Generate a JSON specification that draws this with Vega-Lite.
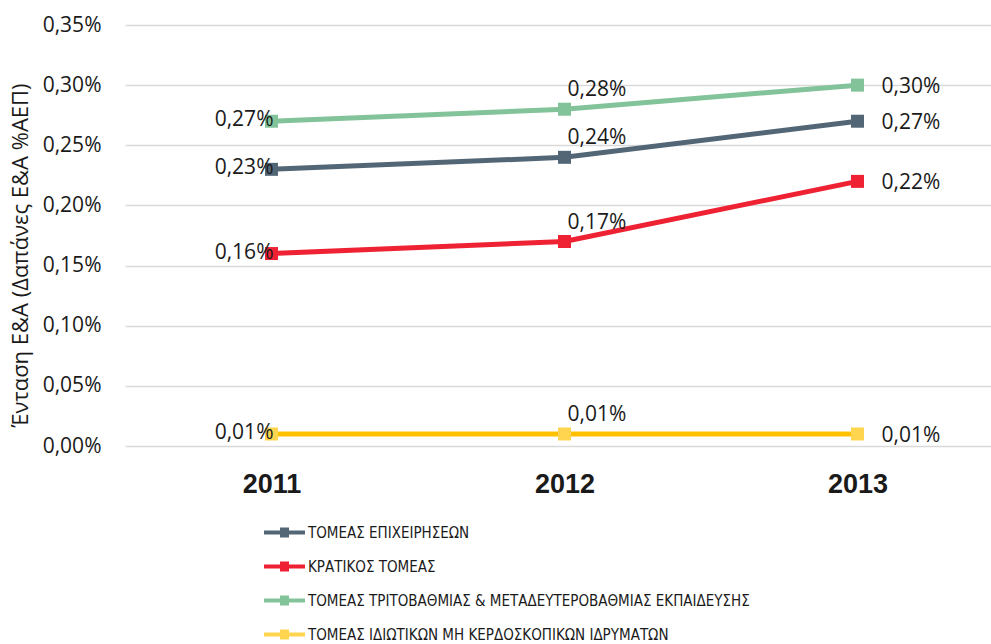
{
  "$schema": "https://vega.github.io/schema/vega-lite/v6.json",
  "autosize": "none",
  "width": 866,
  "height": 421,
  "padding": {"left": 125, "top": 25, "right": 0, "bottom": 198},
  "background": "#ffffff",
  "config": {
    "locale": {"number": {"decimal": ",", "thousands": ".", "grouping": [3], "currency": ["", " €"]}},
    "view": {"stroke": null},
    "font": "Open Sans"
  },
  "data": {
    "values": [
      {"year": "2011", "sector": "ΤΟΜΕΑΣ  ΕΠΙΧΕΙΡΗΣΕΩΝ", "value": 0.0023},
      {"year": "2012", "sector": "ΤΟΜΕΑΣ  ΕΠΙΧΕΙΡΗΣΕΩΝ", "value": 0.0024},
      {"year": "2013", "sector": "ΤΟΜΕΑΣ  ΕΠΙΧΕΙΡΗΣΕΩΝ", "value": 0.0027},
      {"year": "2011", "sector": "ΚΡΑΤΙΚΟΣ ΤΟΜΕΑΣ", "value": 0.0016},
      {"year": "2012", "sector": "ΚΡΑΤΙΚΟΣ ΤΟΜΕΑΣ", "value": 0.0017},
      {"year": "2013", "sector": "ΚΡΑΤΙΚΟΣ ΤΟΜΕΑΣ", "value": 0.0022},
      {"year": "2011", "sector": "ΤΟΜΕΑΣ ΤΡΙΤΟΒΑΘΜΙΑΣ & ΜΕΤΑΔΕΥΤΕΡΟΒΑΘΜΙΑΣ ΕΚΠΑΙΔΕΥΣΗΣ", "value": 0.0027},
      {"year": "2012", "sector": "ΤΟΜΕΑΣ ΤΡΙΤΟΒΑΘΜΙΑΣ & ΜΕΤΑΔΕΥΤΕΡΟΒΑΘΜΙΑΣ ΕΚΠΑΙΔΕΥΣΗΣ", "value": 0.0028},
      {"year": "2013", "sector": "ΤΟΜΕΑΣ ΤΡΙΤΟΒΑΘΜΙΑΣ & ΜΕΤΑΔΕΥΤΕΡΟΒΑΘΜΙΑΣ ΕΚΠΑΙΔΕΥΣΗΣ", "value": 0.003},
      {"year": "2011", "sector": "ΤΟΜΕΑΣ ΙΔΙΩΤΙΚΩΝ ΜΗ ΚΕΡΔΟΣΚΟΠΙΚΩΝ ΙΔΡΥΜΑΤΩΝ", "value": 0.0001},
      {"year": "2012", "sector": "ΤΟΜΕΑΣ ΙΔΙΩΤΙΚΩΝ ΜΗ ΚΕΡΔΟΣΚΟΠΙΚΩΝ ΙΔΡΥΜΑΤΩΝ", "value": 0.0001},
      {"year": "2013", "sector": "ΤΟΜΕΑΣ ΙΔΙΩΤΙΚΩΝ ΜΗ ΚΕΡΔΟΣΚΟΠΙΚΩΝ ΙΔΡΥΜΑΤΩΝ", "value": 0.0001}
    ]
  },
  "encoding": {
    "x": {
      "field": "year", "type": "ordinal",
      "scale": {"type": "point", "padding": 0.5, "range": [0, 879]},
      "axis": {
        "title": null, "domain": false, "ticks": false, "tickSize": 0, "grid": false,
        "labelAngle": 0, "labelFont": "Liberation Sans", "labelFontWeight": "bold",
        "labelFontSize": 27, "labelColor": "#1a1a1a", "labelPadding": 25
      }
    },
    "y": {
      "field": "value", "type": "quantitative",
      "scale": {"domain": [0, 0.0035], "nice": false, "zero": true},
      "axis": {
        "values": [0, 0.0005, 0.001, 0.0015, 0.002, 0.0025, 0.003, 0.0035],
        "format": ".2%", "domain": false, "ticks": false, "tickSize": 0,
        "grid": true, "gridColor": "#d9d9d9", "gridWidth": 1.5,
        "labelFontSize": 21, "labelColor": "#1a1a1a", "labelPadding": 24,
        "title": "Ένταση Ε&Α (Δαπάνες Ε&Α %ΑΕΠ)", "titleFontSize": 22,
        "titleFontWeight": "normal", "titleColor": "#1a1a1a",
        "titleAngle": -90, "titleAlign": "center", "titleBaseline": "middle",
        "titleX": -105, "titleY": 230
      }
    }
  },
  "layer": [
    {
      "mark": {"type": "line", "strokeWidth": 5},
      "encoding": {
        "color": {
          "field": "sector", "type": "nominal",
          "sort": ["ΤΟΜΕΑΣ  ΕΠΙΧΕΙΡΗΣΕΩΝ", "ΚΡΑΤΙΚΟΣ ΤΟΜΕΑΣ", "ΤΟΜΕΑΣ ΤΡΙΤΟΒΑΘΜΙΑΣ & ΜΕΤΑΔΕΥΤΕΡΟΒΑΘΜΙΑΣ ΕΚΠΑΙΔΕΥΣΗΣ", "ΤΟΜΕΑΣ ΙΔΙΩΤΙΚΩΝ ΜΗ ΚΕΡΔΟΣΚΟΠΙΚΩΝ ΙΔΡΥΜΑΤΩΝ"],
          "scale": {
            "domain": ["ΤΟΜΕΑΣ  ΕΠΙΧΕΙΡΗΣΕΩΝ", "ΚΡΑΤΙΚΟΣ ΤΟΜΕΑΣ", "ΤΟΜΕΑΣ ΤΡΙΤΟΒΑΘΜΙΑΣ & ΜΕΤΑΔΕΥΤΕΡΟΒΑΘΜΙΑΣ ΕΚΠΑΙΔΕΥΣΗΣ", "ΤΟΜΕΑΣ ΙΔΙΩΤΙΚΩΝ ΜΗ ΚΕΡΔΟΣΚΟΠΙΚΩΝ ΙΔΡΥΜΑΤΩΝ"],
            "range": ["#536676", "#EE2233", "#83C39A", "#FFC000"]
          },
          "legend": {
            "title": null, "orient": "none", "legendX": 139, "legendY": 487,
            "direction": "vertical",
            "symbolType": "M-1,-0.1L1,-0.1L1,0.1L-1,0.1Z M-0.22,-0.24L0.22,-0.24L0.22,0.24L-0.22,0.24Z",
            "symbolSize": 1681, "symbolStrokeWidth": 0,
            "labelFont": "DejaVu Sans Condensed", "labelFontSize": 15, "labelColor": "#1a1a1a",
            "labelOffset": 3, "rowPadding": 5, "labelLimit": 600,
            "encode": {"symbols": {"update": {"fill": {"scale": "color", "field": "value"}, "fillOpacity": {"value": 1}, "strokeWidth": {"value": 0}}}}
          }
        }
      }
    },
    {
      "mark": {"type": "point", "shape": "square", "filled": true, "size": 169, "opacity": 1},
      "encoding": {
        "fill": {
          "field": "sector", "type": "nominal",
          "scale": {
            "domain": ["ΤΟΜΕΑΣ  ΕΠΙΧΕΙΡΗΣΕΩΝ", "ΚΡΑΤΙΚΟΣ ΤΟΜΕΑΣ", "ΤΟΜΕΑΣ ΤΡΙΤΟΒΑΘΜΙΑΣ & ΜΕΤΑΔΕΥΤΕΡΟΒΑΘΜΙΑΣ ΕΚΠΑΙΔΕΥΣΗΣ", "ΤΟΜΕΑΣ ΙΔΙΩΤΙΚΩΝ ΜΗ ΚΕΡΔΟΣΚΟΠΙΚΩΝ ΙΔΡΥΜΑΤΩΝ"],
            "range": ["#536676", "#EE2233", "#83C39A", "#FFD54F"]
          },
          "legend": null
        }
      }
    },
    {
      "transform": [{"filter": "datum.year == '2011'"}],
      "mark": {"type": "text", "align": "right", "baseline": "middle", "dx": 2, "dy": -1, "fontSize": 21, "color": "#1a1a1a"},
      "encoding": {"text": {"field": "value", "type": "quantitative", "format": ".2%"}}
    },
    {
      "transform": [{"filter": "datum.year == '2012'"}],
      "mark": {"type": "text", "align": "left", "baseline": "middle", "dx": 3, "dy": -19, "fontSize": 21, "color": "#1a1a1a"},
      "encoding": {"text": {"field": "value", "type": "quantitative", "format": ".2%"}}
    },
    {
      "transform": [{"filter": "datum.year == '2013'"}],
      "mark": {"type": "text", "align": "left", "baseline": "middle", "dx": 24, "dy": 2, "fontSize": 21, "color": "#1a1a1a"},
      "encoding": {"text": {"field": "value", "type": "quantitative", "format": ".2%"}}
    }
  ]
}
